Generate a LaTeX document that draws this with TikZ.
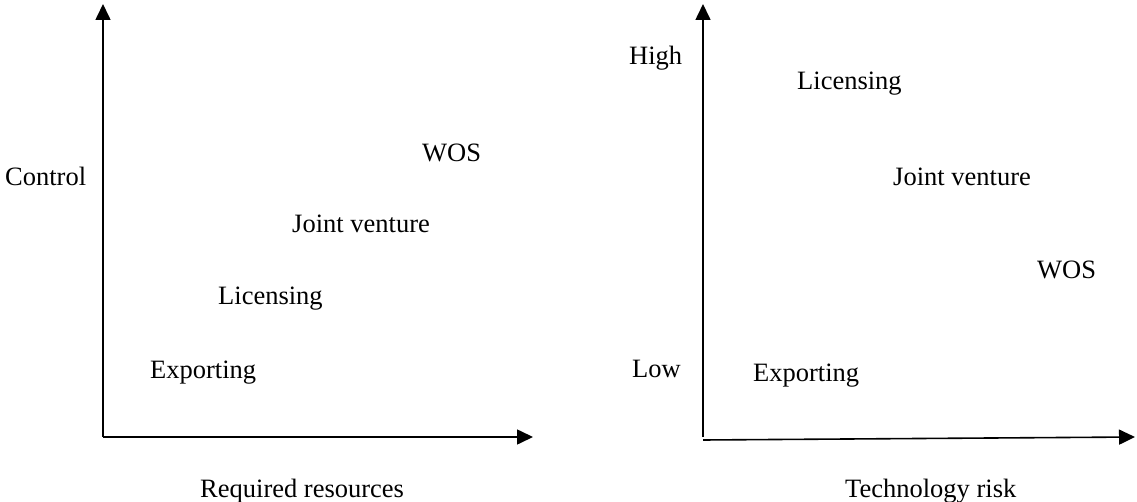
\documentclass[tikz,border=0pt]{standalone}
\usepackage{fontspec}
\setmainfont{Liberation Serif}
\usetikzlibrary{arrows.meta}

\begin{document}
\begin{tikzpicture}[
    x=1pt, y=-1pt,
    axis/.style={line width=1.6pt, -{Triangle[length=16pt, width=15pt]}},
    lbl/.style={anchor=base west, inner sep=0pt, font=\fontsize{26.5}{31}\selectfont},
]
\useasboundingbox (0,0) rectangle (1137,502);

% ── Axes (left panel) ──
\coordinate (O1) at (103,437);
\coordinate (Y1) at (103,4);
\coordinate (X1) at (533,437);
\draw[axis] (O1) -- (Y1);
\draw[axis] (O1) -- (X1);

% ── Axes (right panel) ──
\coordinate (O2) at (703,437);
\coordinate (O2b) at (703,440);
\coordinate (Y2) at (703,4);
\coordinate (X2) at (1135,437);
\draw[axis] (O2) -- (Y2);
\draw[axis] (O2b) -- (X2);

% ── Labels (left panel) ──
\node[lbl] (ctrl) at (5,186) {Control};
\node[lbl] (res) at (200,497) {Required resources};
\node[lbl] (wosA) at (422,162) {WOS};
\node[lbl] (jvA) at (292,233) {Joint venture};
\node[lbl] (licA) at (218,305) {Licensing};
\node[lbl] (expA) at (150,378) {Exporting};

% ── Labels (right panel) ──
\node[lbl] (high) at (629,65) {High};
\node[lbl] (low) at (632,377) {Low};
\node[lbl] (risk) at (845,497) {Technology risk};
\node[lbl] (licB) at (797,90) {Licensing};
\node[lbl] (jvB) at (893,186) {Joint venture};
\node[lbl] (wosB) at (1037,279) {WOS};
\node[lbl] (expB) at (753,381) {Exporting};

\end{tikzpicture}
\end{document}
